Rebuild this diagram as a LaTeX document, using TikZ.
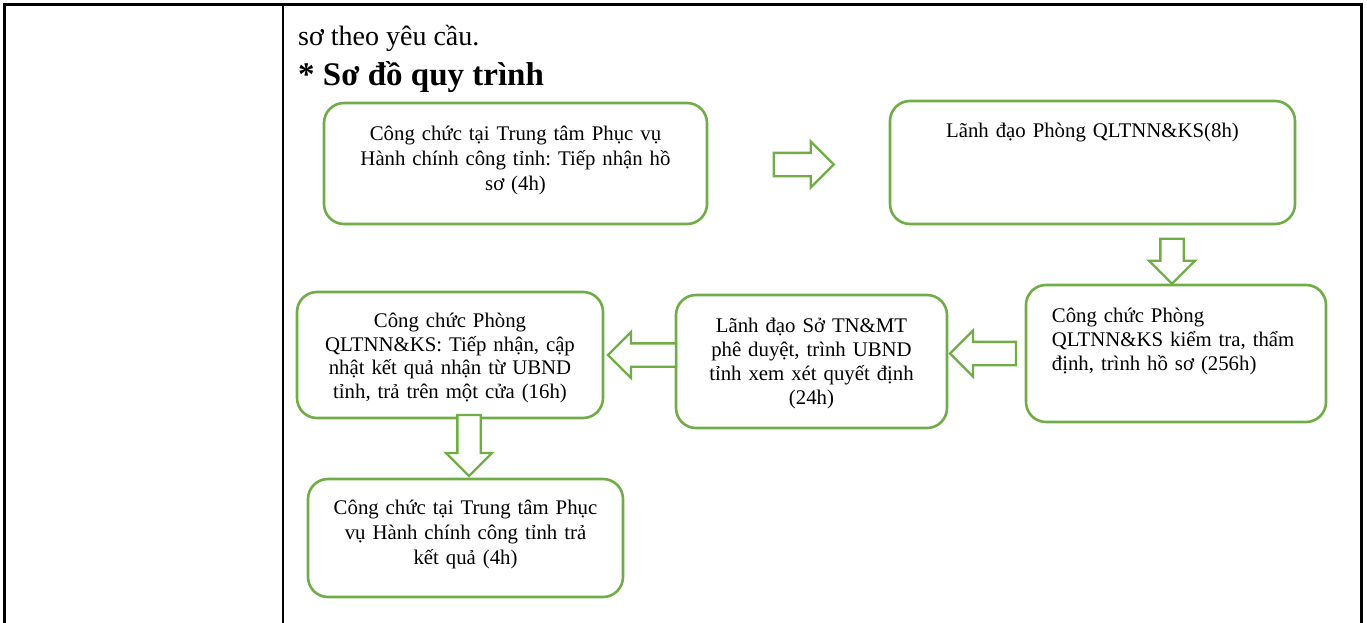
\documentclass[tikz,border=0pt]{standalone}
\usepackage{fontspec}
\setmainfont{Liberation Serif}
\usetikzlibrary{shapes.arrows}
\usetikzlibrary{positioning}
\definecolor{flowgreen}{RGB}{112,173,71}

\begin{document}
\frenchspacing
\begin{tikzpicture}[x=1pt,y=-1pt,
	box/.style = {draw=flowgreen,
		line width=2.6pt,
		rounded corners=20pt,
		fill=white,
		inner sep=0pt},
	boxtext/.style = {anchor=base,
		align=center,
		inner sep=0pt,
		text width=340pt,
		font=\fontsize{20.8}{25}\selectfont},
	blockarrow/.style = {single arrow,
		draw=flowgreen,
		line width=2.3pt,
		fill=white,
		inner sep=10.5pt,
		single arrow head extend=11.5pt,
		single arrow tip angle=90},
	rule/.style = {line width=2.6pt}]
	
	\useasboundingbox (0,0) rectangle (1367,623);
	
	% Table rules
	\draw[rule] (4.5,623) -- (4.5,4.5) -- (1361.5,4.5) -- (1361.5,623);
	\draw[rule] (283,4.5) -- (283,623);
	
	% Heading
	\node[anchor=base west, inner sep=0pt, font=\fontsize{28}{30}\selectfont] (note) at (298,46) {sơ theo yêu cầu.};
	\node[anchor=base west, inner sep=0pt, font=\fontsize{33}{36}\selectfont\bfseries] (title) at (298,86) {* Sơ đồ quy trình};
	
	% Boxes
	\node[box, minimum width=383pt, minimum height=121pt] (recv) at (515.5,163.5) {};
	\node[box, minimum width=405pt, minimum height=123pt] (lead) at (1092.5,162.5) {};
	\node[box, minimum width=300pt, minimum height=137pt] (check) at (1176,353.5) {};
	\node[box, minimum width=271pt, minimum height=133pt] (appr) at (811.5,361.5) {};
	\node[box, minimum width=306pt, minimum height=126pt] (upd) at (450,355) {};
	\node[box, minimum width=315pt, minimum height=118pt] (ret) at (465.5,538) {};
	
	% Box texts
	\node[boxtext, yshift=-39pt] (recvtext) at (recv.north) {Công chức tại Trung tâm Phục vụ\\Hành chính công tỉnh: Tiếp nhận hồ\\sơ (4h)};
	\node[boxtext, yshift=-38pt] (leadtext) at (lead.north) {Lãnh đạo Phòng QLTNN\&KS(8h)};
	\node[boxtext, anchor=base west, align=left, text width=270pt, xshift=27pt, yshift=-39pt,
		font=\fontsize{20.8}{24}\selectfont] (checktext) at (check.north west) {Công chức Phòng\\QLTNN\&KS kiểm tra, thẩm\\định, trình hồ sơ (256h)};
	\node[boxtext, text width=260pt, yshift=-39pt, font=\fontsize{20.8}{24}\selectfont] (apprtext) at (appr.north) {Lãnh đạo Sở TN\&MT\\phê duyệt, trình UBND\\tỉnh xem xét quyết định\\(24h)};
	\node[boxtext, text width=300pt, yshift=-37pt, font=\fontsize{20.8}{23.5}\selectfont] (updtext) at (upd.north) {Công chức Phòng\\QLTNN\&KS: Tiếp nhận, cập\\nhật kết quả nhận từ UBND\\tỉnh, trả trên một cửa (16h)};
	\node[boxtext, text width=300pt, yshift=-37pt] (rettext) at (ret.north) {Công chức tại Trung tâm Phục\\vụ Hành chính công tỉnh trả\\kết quả (4h)};
	
	% Block arrows
	\node[blockarrow, minimum height=60pt] (a1) at (798,164.5) {};
	\node[blockarrow, minimum height=45pt, shape border rotate=270] (a2) at (1172,255.5) {};
	\node[blockarrow, minimum height=66pt, shape border rotate=180, anchor=tip] (a3) at ([yshift=8pt]appr.east) {};
	\node[blockarrow, minimum height=68pt, shape border rotate=180, anchor=tip] (a4) at ([xshift=2pt]upd.east) {};
	\node[blockarrow, minimum height=61pt, shape border rotate=270, anchor=tip] (a5) at ([xshift=3.5pt]ret.north) {};
	
\end{tikzpicture}
\end{document}
